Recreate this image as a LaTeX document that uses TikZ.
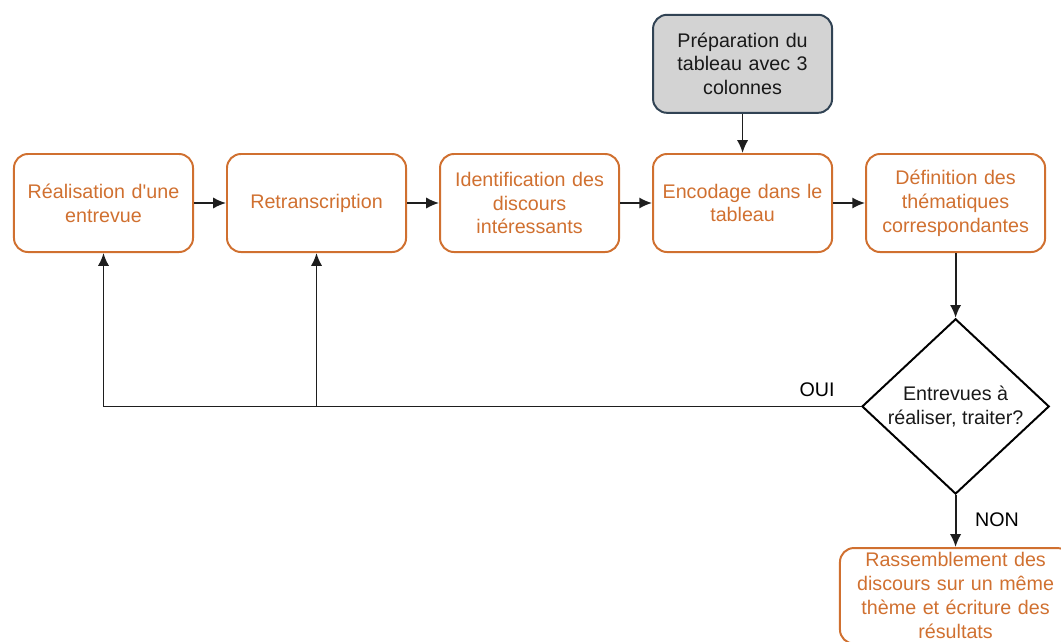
\documentclass[tikz,border=0pt]{standalone}
\usepackage{fontspec}
\setmainfont{Liberation Sans}
\usetikzlibrary{positioning,shapes.geometric,arrows.meta}

\definecolor{etapeorange}{RGB}{208,112,48}
\definecolor{prepgris}{RGB}{211,211,211}
\definecolor{prepbord}{RGB}{49,67,84}
\definecolor{trait}{RGB}{30,30,30}

\tikzset{
  etape/.style={draw=etapeorange, text=etapeorange, line width=1.4pt,
    rounded corners=0.35cm, minimum width=4.475cm, minimum height=2.45cm,
    text width=4.0cm, align=center, font=\fontsize{14}{17}\selectfont},
  prep/.style={etape, draw=prepbord, fill=prepgris, text=black!90},
  choix/.style={diamond, draw=black, line width=1.4pt, shape aspect=1.07,
    inner sep=0pt, minimum width=4.68cm, minimum height=4.38cm,
    align=center, text=black!90, font=\fontsize{14}{17}\selectfont},
  etiq/.style={text=black, font=\fontsize{14}{17}\selectfont},
  fleche/.style={-{Latex[length=3.2mm,width=2.8mm]}, draw=trait, line width=1.3pt}
}

\begin{document}
\begin{tikzpicture}[x=0.025cm, y=-0.025cm, node distance=0.8cm]

\clip (0,0) rectangle (1061,641);

\node[etape] (real) at (103.5,203) {Réalisation d\textquotesingle une\\entrevue};
\node[etape, right=of real] (retr) {Retranscription};
\node[etape, right=of retr] (ident) {Identification des\\discours\\intéressants};
\node[etape, right=of ident] (enco) {Encodage dans le\\tableau};
\node[etape, right=of enco] (defi) {Définition des\\thématiques\\correspondantes};

\node[prep, above=0.98cm of enco] (prepa) {Préparation du\\tableau avec 3\\colonnes};

\node[choix, below=1.62cm of defi] (entr) {Entrevues à\\réaliser, traiter?};

\node[etape, below=1.3cm of entr, minimum width=5.78cm, minimum height=2.3cm,
  text width=5.3cm] (rass)
  {Rassemblement des\\discours sur un même\\thème et écriture des\\résultats};

\draw[fleche] (real) -- (retr);
\draw[fleche] (retr) -- (ident);
\draw[fleche] (ident) -- (enco);
\draw[fleche] (enco) -- (defi);
\draw[fleche] (prepa) -- (enco);
\draw[fleche] (defi) -- (entr);
\draw[fleche] (entr) -- (rass);

\coordinate (coude) at (entr.west -| retr.south);
\draw[fleche] (entr.west) -- (entr.west -| real.south) -- (real.south);
\draw[fleche] (coude) -- (retr.south);

\node[etiq] (oui) at (817,390) {OUI};
\node[etiq] (non) at (997,520) {NON};

\end{tikzpicture}
\end{document}
